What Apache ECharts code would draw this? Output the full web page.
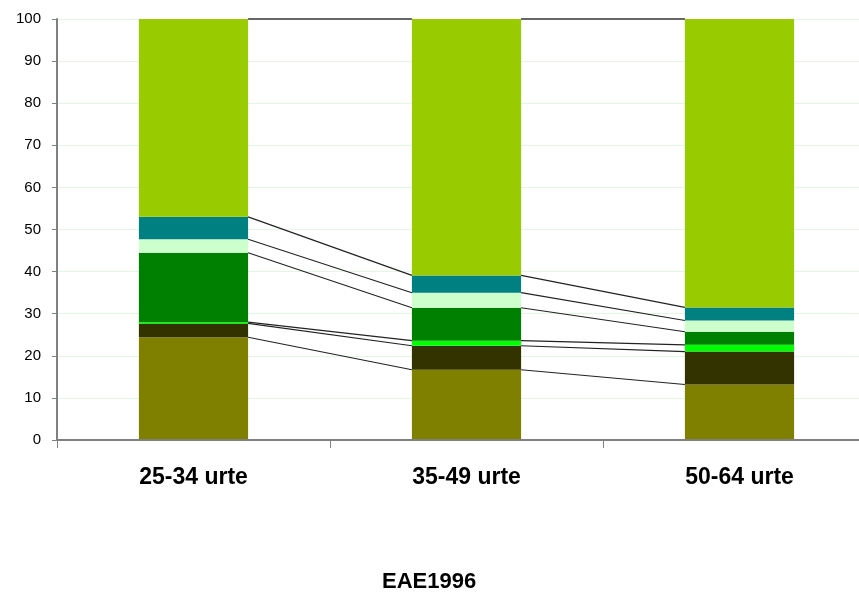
<!DOCTYPE html>
<html>
<head>
<meta charset="utf-8">
<script src="https://cdn.jsdelivr.net/npm/echarts@6/dist/echarts.min.js"></script>
<style>
html,body{margin:0;padding:0;background:#fff;overflow:hidden;width:859px;height:592px;}
#c{width:876px;height:592px;}
</style>
</head>
<body>
<div id="c"></div>
<script>
var categories = ['25-34 urte', '35-49 urte', '50-64 urte'];
var titleText = 'EAE1996';
var s1 = [24.4, 16.7, 13.2];
var s2 = [3.3, 5.7, 7.8];
var s3 = [0.3, 1.2, 1.6];
var s4 = [16.5, 7.8, 3.1];
var s5 = [3.2, 3.6, 2.7];
var s6 = [5.3, 4.1, 3.1];
var s7 = [47.0, 60.9, 68.5];
var yTicks = {min: 0, max: 100, interval: 10};

var seriesValues = [s1, s2, s3, s4, s5, s6, s7];
var colors = ['#808000', '#333300', '#00FF00', '#008000', '#CCFFCC', '#008080', '#99CC00'];

// cumulative tops for series lines
var cumData = categories.map(function (c, i) {
  var row = [i];
  var acc = 0;
  seriesValues.forEach(function (s) { acc += s[i]; row.push(acc); });
  return row;
});

var series = seriesValues.map(function (vals, k) {
  return {
    type: 'bar',
    stack: 'total',
    barWidth: '40%',
    data: vals,
    itemStyle: {color: colors[k]},
    emphasis: {disabled: true},
    z: 2
  };
});

series.push({
  type: 'custom',
  data: cumData,
  encode: {x: 0, y: 1},
  z: 4,
  silent: true,
  renderItem: function (params, api) {
    var i = api.value(0);
    if (i >= categories.length - 1) return null;
    var half = api.size([1, 0])[0] * 0.2;
    var children = [];
    for (var k = 1; k <= seriesValues.length; k++) {
      var p1 = api.coord([i, api.value(k)]);
      var p2 = api.coord([i + 1, cumData[i + 1][k]]);
      children.push({
        type: 'line',
        shape: {x1: p1[0] + half, y1: p1[1], x2: p2[0] - half, y2: p2[1]},
        style: {stroke: k === seriesValues.length ? '#666' : '#222', lineWidth: k === seriesValues.length ? 2 : 1.1}
      });
    }
    return {type: 'group', children: children};
  }
});

var chart = echarts.init(document.getElementById('c'));
chart.setOption({
  animation: false,
  backgroundColor: '#fff',
  title: {
    text: titleText,
    left: 377,
    top: 566,
    textStyle: {fontFamily: 'Liberation Sans', fontWeight: 'bold', fontSize: 22, color: '#000'}
  },
  grid: {left: 57, top: 19, right: 0, bottom: 152, containLabel: false},
  xAxis: {
    type: 'category',
    data: categories,
    boundaryGap: true,
    z: 5,
    axisLine: {lineStyle: {color: '#808080', width: 2}},
    axisTick: {show: true, length: 8, alignWithLabel: false, lineStyle: {color: '#808080', width: 1}},
    axisLabel: {margin: 26, fontFamily: 'Liberation Sans', fontWeight: 'bold', fontSize: 23, color: '#000'},
    splitLine: {show: false}
  },
  yAxis: {
    type: 'value',
    min: yTicks.min,
    max: yTicks.max,
    interval: yTicks.interval,
    axisLine: {show: true, lineStyle: {color: '#808080', width: 2}},
    axisTick: {show: true, length: 5, lineStyle: {color: '#808080', width: 1}},
    axisLabel: {margin: 16, fontFamily: 'Liberation Sans', fontSize: 15, color: '#000'},
    splitLine: {show: true, lineStyle: {color: '#e3f8e3', width: 1}}
  },
  series: series
});
</script>
</body>
</html>
